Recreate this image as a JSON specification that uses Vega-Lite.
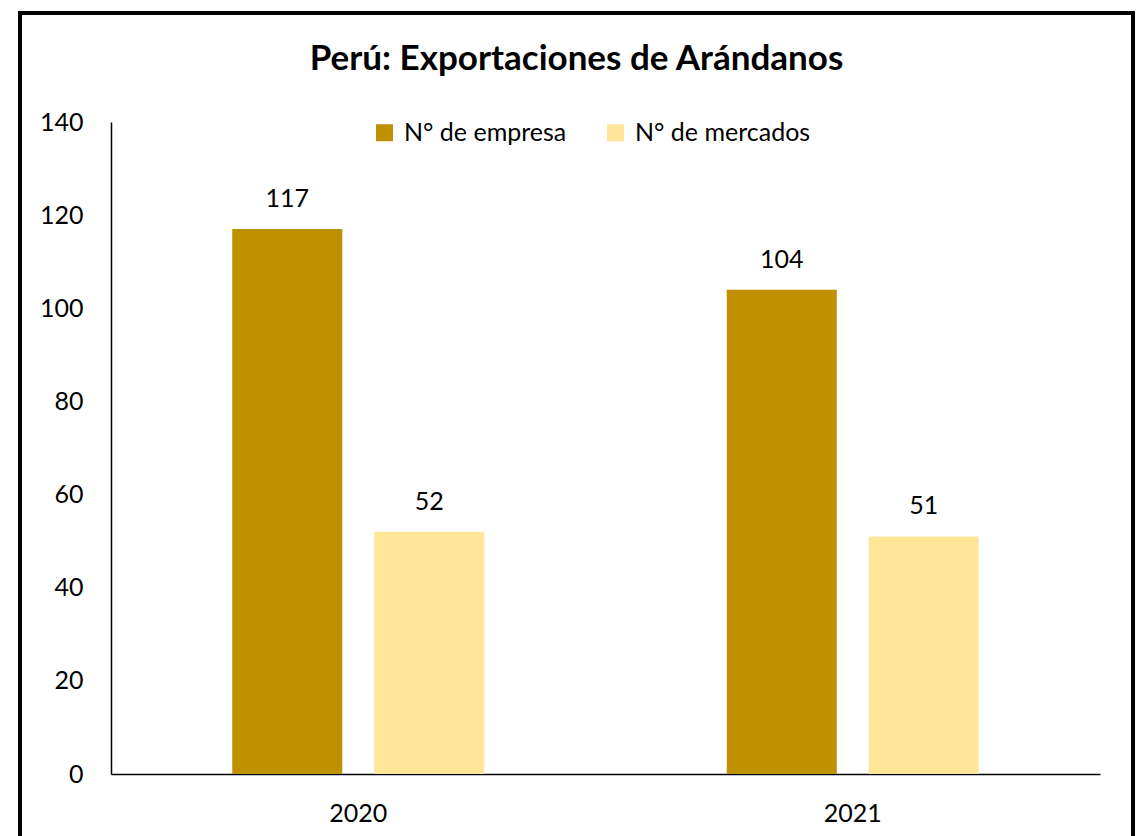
{
  "$schema": "https://vega.github.io/schema/vega-lite/v6.json",
  "width": 1113,
  "height": 830,
  "padding": {"left": 20, "top": 13, "right": 5, "bottom": 0},
  "autosize": {"type": "pad"},
  "background": "white",
  "title": {
    "text": "Perú: Exportaciones de Arándanos",
    "font": "Lato",
    "fontSize": 35,
    "fontWeight": "bold",
    "color": "black",
    "anchor": "middle",
    "frame": "group",
    "offset": -92,
    "baseline": "alphabetic"
  },
  "data": {
    "values": [
      {"anio": "2020", "serie": "N° de empresa", "valor": 117},
      {"anio": "2020", "serie": "N° de mercados", "valor": 52},
      {"anio": "2021", "serie": "N° de empresa", "valor": 104},
      {"anio": "2021", "serie": "N° de mercados", "valor": 51}
    ]
  },
  "encoding": {
    "x": {
      "field": "anio",
      "type": "nominal",
      "title": null,
      "scale": {"range": [91, 1080], "paddingInner": 0, "paddingOuter": 0},
      "axis": {
        "offset": -69,
        "labelAngle": 0,
        "ticks": false,
        "tickSize": 0,
        "labelPadding": 27,
        "domainColor": "black",
        "domainWidth": 1.5
      }
    },
    "xOffset": {
      "field": "serie",
      "type": "nominal",
      "scale": {"paddingInner": 0.225, "paddingOuter": 0.854}
    },
    "y": {
      "field": "valor",
      "type": "quantitative",
      "title": null,
      "scale": {"domain": [0, 140], "range": [761, 109], "nice": false, "zero": true},
      "axis": {
        "offset": -91,
        "values": [0, 20, 40, 60, 80, 100, 120, 140],
        "ticks": false,
        "tickSize": 0,
        "labelPadding": 28,
        "grid": false,
        "domainColor": "black",
        "domainWidth": 1.5
      }
    }
  },
  "layer": [
    {
      "mark": {"type": "bar"},
      "encoding": {
        "color": {
          "field": "serie",
          "type": "nominal",
          "title": null,
          "scale": {"domain": ["N° de empresa", "N° de mercados"], "range": ["#BF9000", "#FFE699"]},
          "legend": {
            "orient": "none",
            "direction": "horizontal",
            "legendX": 352,
            "legendY": 107,
            "symbolType": "square",
            "symbolSize": 289,
            "symbolStrokeWidth": 0,
            "labelFont": "Lato",
            "labelFontSize": 25,
            "labelColor": "black",
            "labelLimit": 400,
            "labelOffset": 7,
            "columnPadding": 36,
            "padding": 0
          }
        }
      }
    },
    {
      "mark": {"type": "text", "dy": -22, "baseline": "alphabetic", "font": "Lato", "fontSize": 25, "color": "black"},
      "encoding": {
        "text": {"field": "valor", "type": "quantitative"}
      }
    }
  ],
  "config": {
    "view": {"stroke": "black", "strokeWidth": 4},
    "axis": {"labelFont": "Lato", "labelFontSize": 25, "labelColor": "black"}
  }
}
